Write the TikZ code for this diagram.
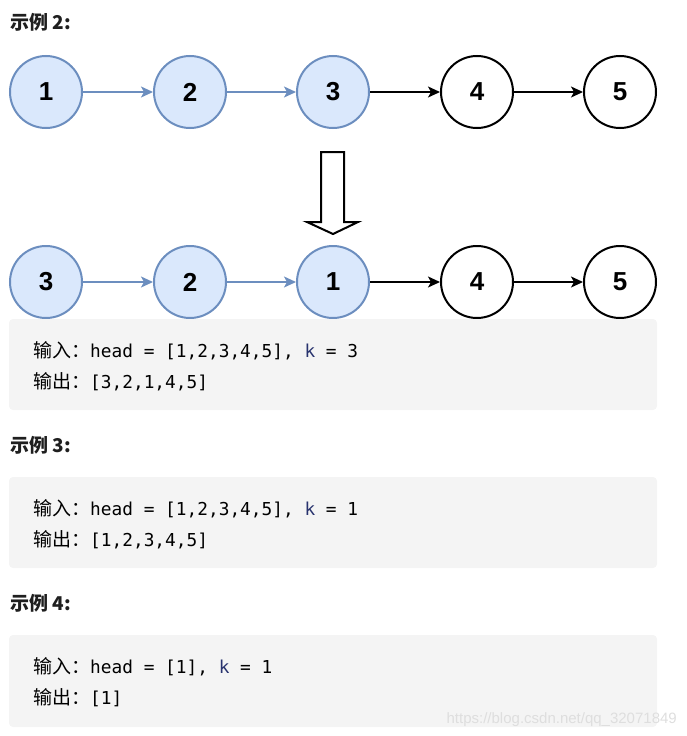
\documentclass[tikz,border=0pt]{standalone}
\usepackage{fontspec}
\setmainfont{Liberation Sans}
\newfontfamily\cjk{Noto Sans CJK SC}
\newfontfamily\codefont{DejaVu Sans Mono}
\usepackage{tikz}
\usetikzlibrary{arrows.meta}
\definecolor{nodefill}{HTML}{DAE8FC}
\definecolor{nodeline}{HTML}{6C8EBF}
\definecolor{boxgray}{HTML}{F4F4F4}
\definecolor{keyblue}{HTML}{28336E}
\newcommand{\code}[1]{{\codefont\fontsize{17.8}{18}\selectfont #1}}

\begin{document}
\begin{tikzpicture}[x=1pt,y=-1pt]
\tikzset{vertex/.style = {shape=circle,draw,line width=2pt,minimum size=72pt,inner sep=0pt,font=\fontsize{26}{26}\selectfont\bfseries}}
\tikzset{done/.style = {vertex,fill=nodefill,draw=nodeline}}
\tikzset{edge/.style = {->,line width=1.5pt,> = {Stealth[length=12pt,width=11pt,inset=3pt]}}}
\tikzset{doneedge/.style = {edge,draw=nodeline}}
\tikzset{title/.style = {anchor=base west,inner sep=0pt,font=\cjk\bfseries\fontsize{19}{19}\selectfont,text=black!88}}
\tikzset{codebox/.style = {fill=boxgray,rounded corners=4pt}}
\tikzset{codeline/.style = {anchor=base west,inner sep=0pt,font=\fontsize{19}{19}\selectfont,text=black}}
\useasboundingbox (0,0) rectangle (686,736);
% example 2, before
\node[title] (t2) at (10,29) {示例 2:};
\node[done] (p1) at  (46,92) {1};
\node[done] (p2) at  (190,92) {2};
\node[done] (p3) at  (333,92) {3};
\node[vertex] (p4) at  (477,92) {4};
\node[vertex] (p5) at  (620,92) {5};
\draw[doneedge] (p1) to (p2);
\draw[doneedge] (p2) to (p3);
\draw[edge] (p3) to (p4);
\draw[edge] (p4) to (p5);
% big down arrow
\draw[line width=2pt,line join=miter] (321,152) -- (344,152) -- (344,222) -- (358,222)
  -- (333,234) -- (307,222) -- (321,222) -- cycle;
% example 2, after
\node[done] (q1) at  (46,282) {3};
\node[done] (q2) at  (190,282) {2};
\node[done] (q3) at  (333,282) {1};
\node[vertex] (q4) at  (477,282) {4};
\node[vertex] (q5) at  (620,282) {5};
\draw[doneedge] (q1) to (q2);
\draw[doneedge] (q2) to (q3);
\draw[edge] (q3) to (q4);
\draw[edge] (q4) to (q5);
% code boxes
\fill[codebox] (9,319) rectangle (657,410);
\node[codeline] (in2) at (33,357) {{\cjk 输入：}\code{head = [1,2,3,4,5], {\color{keyblue}k} = 3}};
\node[codeline] (out2) at (33,388) {{\cjk 输出：}\code{[3,2,1,4,5]}};
\node[title] (t3) at (10,452) {示例 3:};
\fill[codebox] (9,477) rectangle (657,568);
\node[codeline] (in3) at (33,515) {{\cjk 输入：}\code{head = [1,2,3,4,5], {\color{keyblue}k} = 1}};
\node[codeline] (out3) at (33,546) {{\cjk 输出：}\code{[1,2,3,4,5]}};
\node[title] (t4) at (10,610) {示例 4:};
\fill[codebox] (9,635) rectangle (657,727);
\node[codeline] (in4) at (33,673) {{\cjk 输入：}\code{head = [1], {\color{keyblue}k} = 1}};
\node[codeline] (out4) at (33,704) {{\cjk 输出：}\code{[1]}};
% watermark
\node[anchor=base east,inner sep=0pt,text=black!13,font=\fontsize{15}{15}\selectfont] (mark) at (677,723) {https://blog.csdn.net/qq\_32071849};
\end{tikzpicture}
\end{document}
